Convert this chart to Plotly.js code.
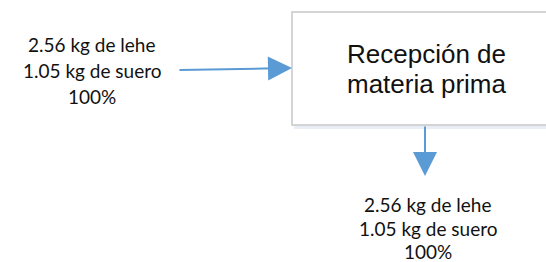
<!DOCTYPE html>
<html><head><meta charset="utf-8">
<script src="https://cdn.plot.ly/plotly-3.0.1.min.js"></script>
<style>body{margin:0;background:#fff}#c{width:546px;height:262px}</style>
</head><body><div id="c"></div>
<script>
const inputLines = ["2.56 kg de lehe", "1.05 kg de suero", "100%"];
const outputLines = ["2.56 kg de lehe", "1.05 kg de suero", "100%"];
const processName = ["Recepción de", "materia prima"];

const blue = "#5b9bd5";
const txtFont = {family: "Lato, 'Open Sans', sans-serif", size: 19, color: "#111"};

const annotations = [];
const inY = [44, 70, 96];
inputLines.forEach((t, i) => annotations.push({x: 92, y: inY[i], xref: "x", yref: "y", text: t, showarrow: false, font: txtFont, borderpad: 0}));
const outY = [204, 228, 251];
outputLines.forEach((t, i) => annotations.push({x: 428, y: outY[i], xref: "x", yref: "y", text: t, showarrow: false, font: txtFont, borderpad: 0}));
const pY = [54, 84];
processName.forEach((t, i) => annotations.push({x: 426, y: pY[i], xref: "x", yref: "y", text: t, showarrow: false,
  font: {family: "'Liberation Sans', Arial, sans-serif", size: 26, color: "#111"}}));

// arrows
annotations.push({x: 292, y: 68, ax: 178, ay: 70, xref: "x", yref: "y", axref: "x", ayref: "y", text: "",
  showarrow: true, arrowhead: 2, arrowsize: 2.4, arrowwidth: 2, arrowcolor: blue, standoff: 0});
annotations.push({x: 425, y: 176, ax: 425, ay: 125, xref: "x", yref: "y", axref: "x", ayref: "y", text: "",
  showarrow: true, arrowhead: 2, arrowsize: 2.4, arrowwidth: 2, arrowcolor: blue, standoff: 0});

const shapes = [
  {type: "rect", xref: "x", yref: "y", x0: 294, x1: 560, y0: 16, y1: 129, fillcolor: "rgba(190,205,220,0.35)", line: {width: 0}, layer: "below"},
  {type: "rect", xref: "x", yref: "y", x0: 292, x1: 560, y0: 12, y1: 125, fillcolor: "#ffffff", line: {color: "#c8c8c8", width: 1.5}, layer: "below"}
];

const layout = {
  width: 546, height: 262,
  margin: {l: 0, r: 0, t: 0, b: 0},
  paper_bgcolor: "#fff", plot_bgcolor: "#fff",
  xaxis: {range: [0, 546], visible: false, fixedrange: true},
  yaxis: {range: [262, 0], visible: false, fixedrange: true},
  showlegend: false,
  annotations: annotations,
  shapes: shapes
};
Plotly.newPlot("c", [{x: [], y: [], type: "scatter"}], layout, {displayModeBar: false, staticPlot: true});
</script></body></html>
